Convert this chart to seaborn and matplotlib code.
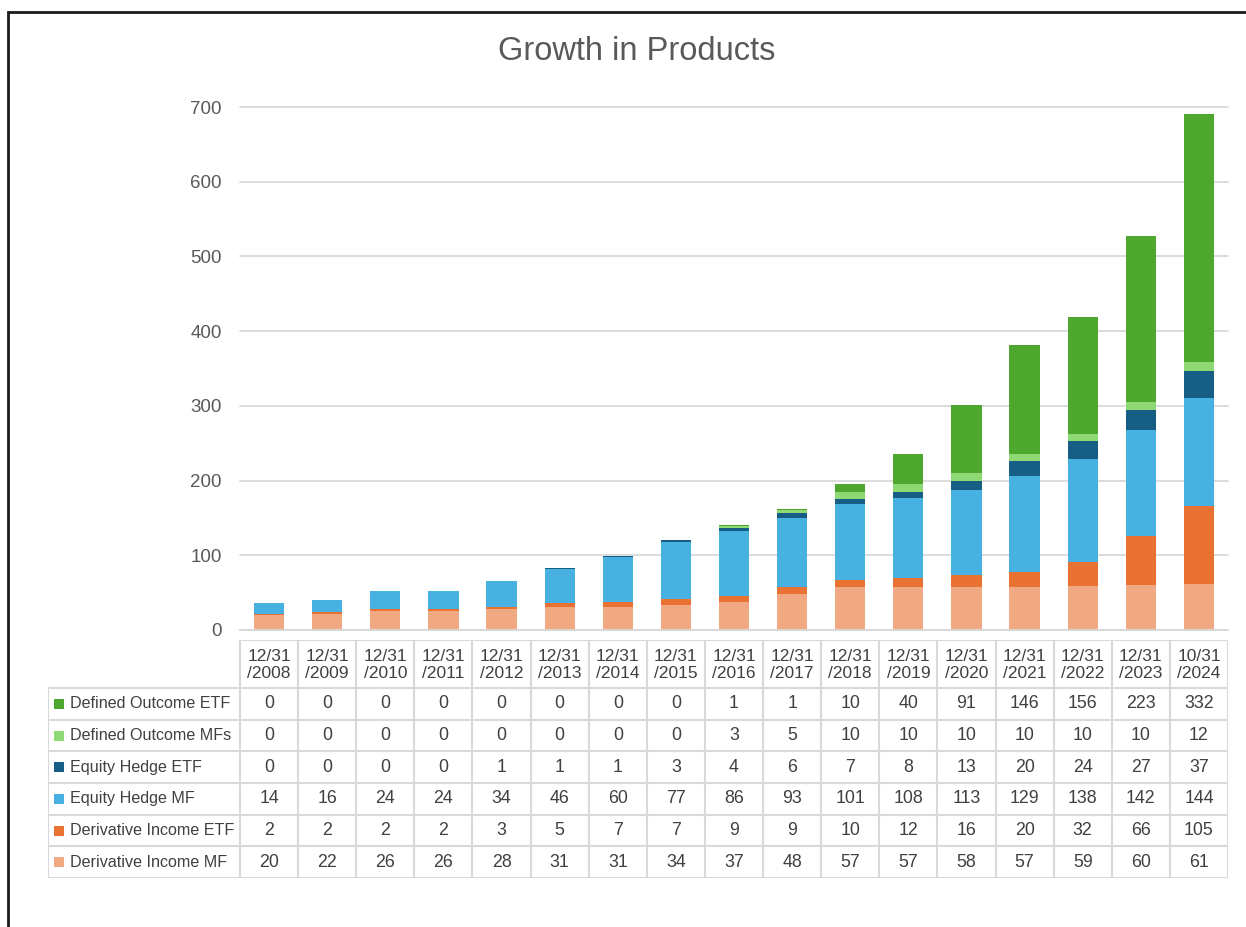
import numpy as np
import pandas as pd
import matplotlib
matplotlib.use("Agg")
import matplotlib.pyplot as plt
import seaborn as sns
from matplotlib.patches import Rectangle

dates = ["12/31\n/2008", "12/31\n/2009", "12/31\n/2010", "12/31\n/2011", "12/31\n/2012",
         "12/31\n/2013", "12/31\n/2014", "12/31\n/2015", "12/31\n/2016", "12/31\n/2017",
         "12/31\n/2018", "12/31\n/2019", "12/31\n/2020", "12/31\n/2021", "12/31\n/2022",
         "12/31\n/2023", "10/31\n/2024"]

defined_outcome_etf = [0, 0, 0, 0, 0, 0, 0, 0, 1, 1, 10, 40, 91, 146, 156, 223, 332]
defined_outcome_mfs = [0, 0, 0, 0, 0, 0, 0, 0, 3, 5, 10, 10, 10, 10, 10, 10, 12]
equity_hedge_etf = [0, 0, 0, 0, 1, 1, 1, 3, 4, 6, 7, 8, 13, 20, 24, 27, 37]
equity_hedge_mf = [14, 16, 24, 24, 34, 46, 60, 77, 86, 93, 101, 108, 113, 129, 138, 142, 144]
derivative_income_etf = [2, 2, 2, 2, 3, 5, 7, 7, 9, 9, 10, 12, 16, 20, 32, 66, 105]
derivative_income_mf = [20, 22, 26, 26, 28, 31, 31, 34, 37, 48, 57, 57, 58, 57, 59, 60, 61]

# bottom-to-top stacking order
series_names = ["Derivative Income MF", "Derivative Income ETF", "Equity Hedge MF",
                "Equity Hedge ETF", "Defined Outcome MFs", "Defined Outcome ETF"]
series_vals = [derivative_income_mf, derivative_income_etf, equity_hedge_mf,
               equity_hedge_etf, defined_outcome_mfs, defined_outcome_etf]
colors = ["#F1A983", "#E97132", "#47B2E2", "#165E84", "#8ED973", "#4EA72E"]

sns.set_theme(style="white")
plt.rcParams["font.family"] = ["Liberation Sans", "DejaVu Sans"]

W, H = 1246, 927
fig = plt.figure(figsize=(W / 100, H / 100), dpi=100)

def fx(px):
    return px / W

def fy(py):
    return 1 - py / H

# border frame (partially cropped in the reference)
fig.patches.append(Rectangle((fx(7.5), fy(1000)), fx(1400), fy(11.5) - fy(1000),
                             transform=fig.transFigure, fill=False,
                             edgecolor="#1a1a1a", linewidth=2.0))

ax_left, ax_right = 240, 1228
ax_top, ax_bot = 107, 630
ax = fig.add_axes([fx(ax_left), fy(ax_bot), fx(ax_right - ax_left), fy(ax_top) - fy(ax_bot)])

df = pd.DataFrame({"date": dates})
bottom = np.zeros(len(dates))
for name, vals, c in zip(series_names, series_vals, colors):
    df[name] = vals
    sns.barplot(data=df, x="date", y=name, color=c, width=0.52, errorbar=None,
                bottom=bottom, ax=ax, linewidth=0, saturation=1)
    bottom = bottom + np.array(vals)

ax.set_xlim(-0.5, len(dates) - 0.5)
ax.set_ylim(0, 700)
ax.set_yticks(np.arange(0, 701, 100))
ax.yaxis.grid(True, color="#D9D9D9", linewidth=1.3, clip_on=False)
ax.set_axisbelow(True)
for s in ["top", "right", "left"]:
    ax.spines[s].set_visible(False)
ax.spines["bottom"].set_color("#D9D9D9")
ax.spines["bottom"].set_linewidth(1.3)
ax.set_xticks([])
ax.set_xlabel("")
ax.set_ylabel("")
ax.tick_params(axis="y", length=0, pad=13, labelsize=13.5, labelcolor="#595959")
for lbl in ax.get_yticklabels():
    lbl.set_clip_on(False)

fig.text(fx(637), fy(52), "Growth in Products", ha="center", va="center",
         fontsize=23.5, color="#595959")

# ---- data table ----
tab_left, tab_top, tab_bot = 48, 640, 878
colw = (ax_right - ax_left) / len(dates)
L = (ax_left - tab_left) / colw
tax = fig.add_axes([fx(tab_left), fy(tab_bot), fx(ax_right - tab_left), fy(tab_top) - fy(tab_bot)])
tax.set_xlim(-0.5 - L, len(dates) - 0.5)
tax.set_ylim(tab_bot - tab_top, 0)
tax.axis("off")

head_h = 48
row_h = (tab_bot - tab_top - head_h) / 6
lc = "#D9D9D9"
lw = 1.5
n = len(dates)
# horizontal lines
tax.plot([-0.5, n - 0.5], [0, 0], color=lc, lw=lw, solid_capstyle="butt")
for r in range(7):
    y = head_h + r * row_h
    tax.plot([-0.5 - L, n - 0.5], [y, y], color=lc, lw=lw, solid_capstyle="butt")
# vertical lines
tax.plot([-0.5 - L, -0.5 - L], [head_h, tab_bot - tab_top], color=lc, lw=lw)
for i in range(n + 1):
    tax.plot([i - 0.5, i - 0.5], [0, tab_bot - tab_top], color=lc, lw=lw)

tc = "#404040"
for i, d in enumerate(dates):
    tax.text(i, head_h / 2 + 1, d, ha="center", va="center", fontsize=12.5,
             color=tc, linespacing=1.2)

table_rows = list(zip(series_names, series_vals, colors))[::-1]
for r, (name, vals, c) in enumerate(table_rows):
    yc = head_h + (r + 0.5) * row_h
    tax.scatter([-0.5 - L + 0.19], [yc], marker="s", s=55, color=c, linewidths=0, clip_on=False)
    tax.text(-0.5 - L + 0.37, yc, name, ha="left", va="center", fontsize=11.6, color=tc)
    for i, v in enumerate(vals):
        tax.text(i, yc, str(v), ha="center", va="center", fontsize=12.8, color=tc)

fig.savefig("out.png", dpi=100, facecolor="white")
